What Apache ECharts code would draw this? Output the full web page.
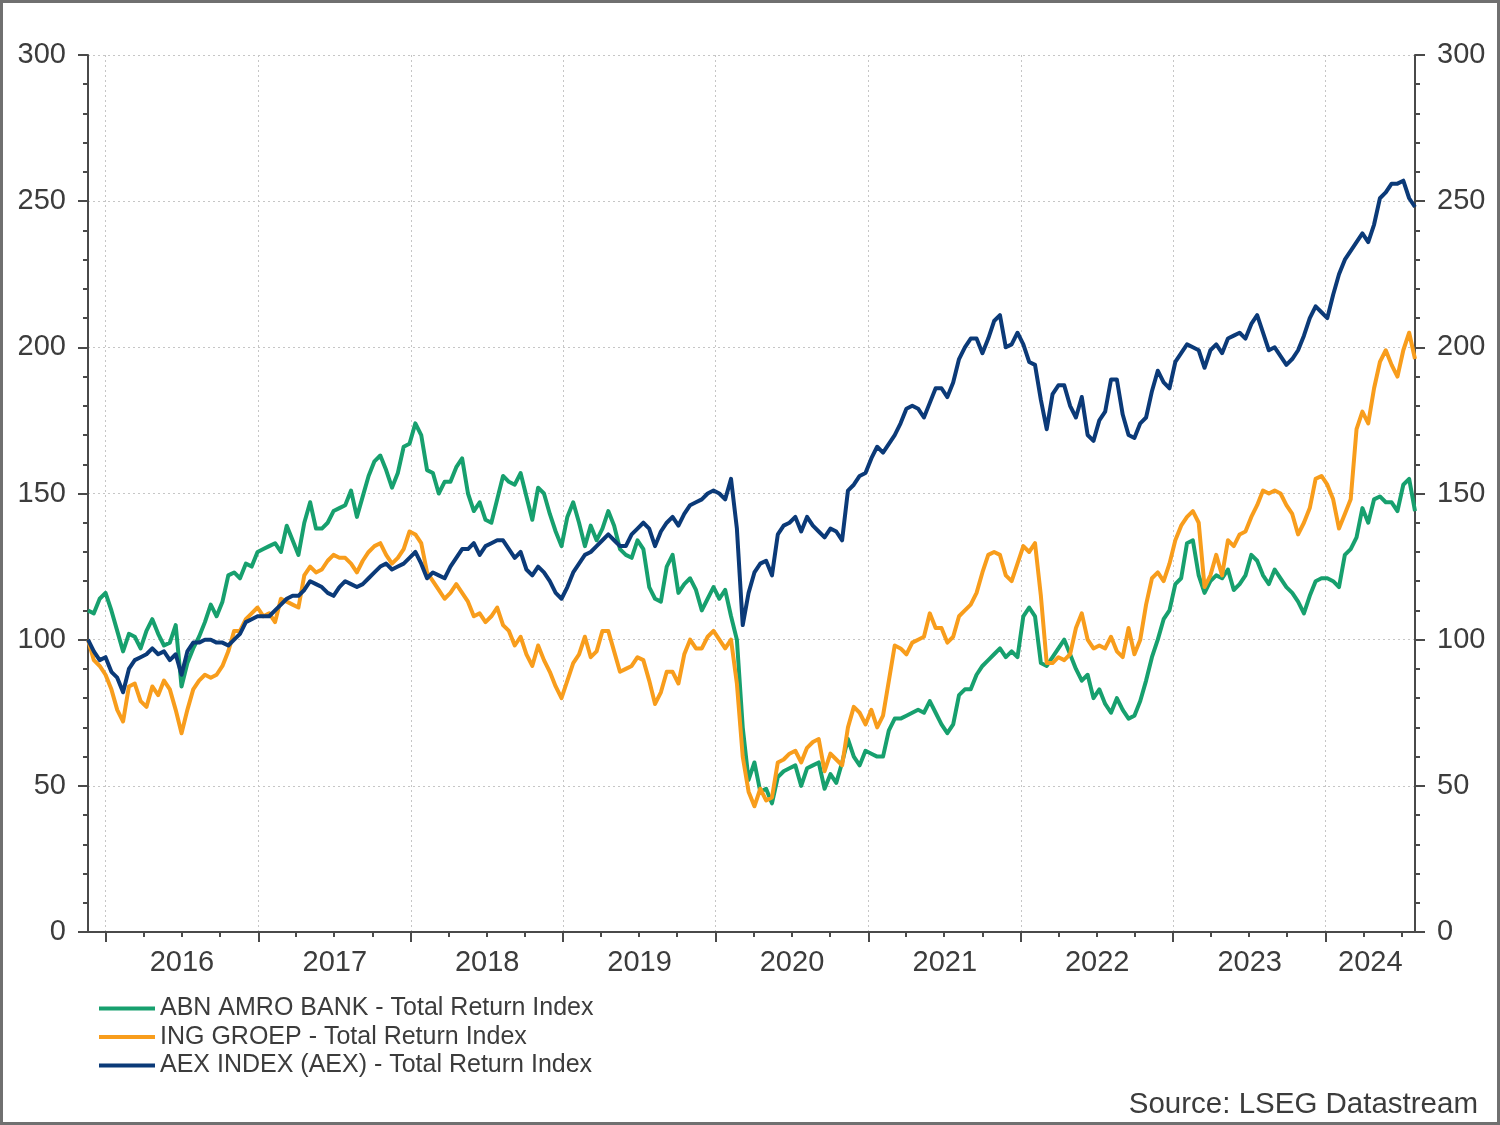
<!DOCTYPE html>
<html>
<head>
<meta charset="utf-8">
<title>ABN AMRO, ING, AEX - Total Return Index</title>
<script src="https://cdn.jsdelivr.net/npm/echarts@6/dist/echarts.min.js"></script>
<style>
  html, body { margin: 0; padding: 0; background: #fff; }
  #chart { width: 1500px; height: 1125px; }
</style>
</head>
<body>
<div id="chart"></div>
<script>
// biweekly observations, rebased to 100 at the start
const startDate = Date.UTC(2015, 10, 20);
const stepDays = 14;
const years = [2016, 2017, 2018, 2019, 2020, 2021, 2022, 2023, 2024];

const abn = [
  110, 109, 114, 116, 110, 103, 96, 102, 101, 97,
  103, 107, 102, 98, 99, 105, 84, 92, 97, 101,
  106, 112, 108, 113, 122, 123, 121, 126, 125, 130,
  131, 132, 133, 130, 139, 134, 129, 140, 147, 138,
  138, 140, 144, 145, 146, 151, 142, 149, 156, 161,
  163, 158, 152, 157, 166, 167, 174, 170, 158, 157,
  150, 154, 154, 159, 162, 150, 144, 147, 141, 140,
  148, 156, 154, 153, 157, 149, 141, 152, 150, 143,
  137, 132, 142, 147, 140, 132, 139, 134, 138, 144,
  139, 131, 129, 128, 134, 131, 118, 114, 113, 125,
  129, 116, 119, 121, 117, 110, 114, 118, 114, 117,
  108, 100, 70, 52, 58, 48, 49, 44, 53, 55,
  56, 57, 50, 56, 57, 58, 49, 54, 51, 58,
  66, 60, 57, 62, 61, 60, 60, 69, 73, 73,
  74, 75, 76, 75, 79, 75, 71, 68, 71, 81,
  83, 83, 88, 91, 93, 95, 97, 94, 96, 94,
  108, 111, 108, 92, 91, 94, 97, 100, 95, 90,
  86, 88, 80, 83, 78, 75, 80, 76, 73, 74,
  79, 86, 94, 100, 107, 110, 119, 121, 133, 134,
  122, 116, 120, 122, 121, 124, 117, 119, 122, 129,
  127, 122, 119, 124, 121, 118, 116, 113, 109, 115,
  120, 121, 121, 120, 118, 129, 131, 135, 145, 140,
  148, 149, 147, 147, 144, 153, 155, 144
];

const ing = [
  100, 93, 91, 88, 83, 76, 72, 84, 85, 79,
  77, 84, 81, 86, 83, 76, 68, 76, 83, 86,
  88, 87, 88, 91, 96, 103, 103, 107, 109, 111,
  108, 109, 106, 114, 113, 112, 111, 122, 125, 123,
  124, 127, 129, 128, 128, 126, 123, 127, 130, 132,
  133, 129, 126, 128, 131, 137, 136, 133, 123, 120,
  117, 114, 116, 119, 116, 113, 108, 109, 106, 108,
  111, 105, 103, 98, 101, 95, 91, 98, 93, 89,
  84, 80, 86, 92, 95, 101, 94, 96, 103, 103,
  96, 89, 90, 91, 94, 93, 86, 78, 82, 89,
  89, 85, 95, 100, 97, 97, 101, 103, 100, 97,
  100, 85, 60, 48, 43, 49, 45, 46, 58, 59,
  61, 62, 58, 63, 65, 66, 55, 61, 59, 57,
  70, 77, 75, 71, 76, 70, 74, 86, 98, 97,
  95, 99, 100, 101, 109, 104, 104, 99, 101, 108,
  110, 112, 116, 123, 129, 130, 129, 122, 120, 126,
  132, 130, 133, 115, 92, 92, 94, 93, 95, 104,
  109, 100, 97, 98, 97, 101, 96, 94, 104, 95,
  100, 112, 121, 123, 120, 126, 134, 139, 142, 144,
  140, 118, 122, 129, 122, 134, 132, 136, 137, 142,
  146, 151, 150, 151, 150, 146, 143, 136, 140, 145,
  155, 156, 153, 148, 138, 143, 148, 172, 178, 174,
  186, 195, 199, 194, 190, 199, 205, 196
];

const aex = [
  100, 96, 93, 94, 89, 87, 82, 90, 93, 94,
  95, 97, 95, 96, 93, 95, 88, 96, 99, 99,
  100, 100, 99, 99, 98, 100, 102, 106, 107, 108,
  108, 108, 110, 112, 114, 115, 115, 117, 120, 119,
  118, 116, 115, 118, 120, 119, 118, 119, 121, 123,
  125, 126, 124, 125, 126, 128, 130, 126, 121, 123,
  122, 121, 125, 128, 131, 131, 133, 129, 132, 133,
  134, 134, 131, 128, 130, 124, 122, 125, 123, 120,
  116, 114, 118, 123, 126, 129, 130, 132, 134, 136,
  134, 132, 132, 136, 138, 140, 138, 132, 137, 140,
  142, 139, 143, 146, 147, 148, 150, 151, 150, 148,
  155, 138, 105, 116, 123, 126, 127, 122, 136, 139,
  140, 142, 137, 142, 139, 137, 135, 138, 137, 134,
  151, 153, 156, 157, 162, 166, 164, 167, 170, 174,
  179, 180, 179, 176, 181, 186, 186, 183, 188, 196,
  200, 203, 203, 198, 203, 209, 211, 200, 201, 205,
  201, 195, 194, 182, 172, 184, 187, 187, 180, 176,
  183, 170, 168, 175, 178, 189, 189, 177, 170, 169,
  174, 176, 185, 192, 188, 186, 195, 198, 201, 200,
  199, 193, 199, 201, 198, 203, 204, 205, 203, 208,
  211, 205, 199, 200, 197, 194, 196, 199, 204, 210,
  214, 212, 210, 218, 225, 230, 233, 236, 239, 236,
  242, 251, 253, 256, 256, 257, 251, 248
];

const seriesNames = [
  'ABN AMRO BANK - Total Return Index',
  'ING GROEP - Total Return Index',
  'AEX INDEX (AEX) - Total Return Index'
];
const colors = ['#17a06e', '#f89d1c', '#0b3a78'];

const DAY = 86400000;
const fontFamily = '"Liberation Sans", Arial, sans-serif';
const axisColor = '#4a4a4a';
const textColor = '#3c3c3c';
const gridColor = '#c6c6c6';

const endDate = startDate + (abn.length - 1) * stepDays * DAY;
const obsTimes = abn.map((v, i) => startDate + i * stepDays * DAY);

// daily helper categories so ticks land exactly on calendar dates
const dayCount = Math.round((endDate - startDate) / DAY) + 1;
const days = [];
for (let d = 0; d < dayCount; d++) {
  days.push(new Date(startDate + d * DAY).toISOString().slice(0, 10));
}
function dayIdx(y, m) {
  return Math.round((Date.UTC(y, m, 1) - startDate) / DAY);
}

const yearTicks = new Set(years.map(y => dayIdx(y, 0)));
const quarterTicks = new Set();
years.forEach(y => [0, 3, 6, 9].forEach(m => {
  const k = dayIdx(y, m);
  if (k >= 0 && k < dayCount) quarterTicks.add(k);
}));
const yearLabels = {};
years.forEach((y, j) => {
  const a = dayIdx(y, 0);
  const b = Math.min(dayIdx(y + 1, 0), dayCount - 1);
  yearLabels[Math.round((a + b) / 2)] = String(y);
});

const pairs = arr => arr.map((v, i) => [obsTimes[i], v]);

const chart = echarts.init(document.getElementById('chart'));

const yAxisBase = {
  type: 'value',
  min: 0,
  max: 300,
  interval: 50,
  axisLine: { show: true, lineStyle: { color: axisColor, width: 2 } },
  axisTick: { show: true, length: 10, lineStyle: { color: axisColor, width: 2 } },
  minorTick: { show: true, splitNumber: 5, length: 5, lineStyle: { color: axisColor, width: 2 } },
  axisLabel: { margin: 22, fontSize: 29, color: textColor, fontFamily: fontFamily }
};

chart.setOption({
  animation: false,
  backgroundColor: '#fff',
  color: colors,
  grid: { left: 88, right: 85, top: 55, bottom: 193, containLabel: false },
  xAxis: [
    {
      type: 'time',
      min: startDate,
      max: endDate,
      show: false
    },
    {
      type: 'category',
      data: days,
      boundaryGap: false,
      position: 'bottom',
      axisLine: { show: true, lineStyle: { color: axisColor, width: 2 } },
      axisTick: { show: true, length: 10, interval: idx => yearTicks.has(idx), lineStyle: { color: axisColor, width: 2 } },
      axisLabel: { show: false },
      splitLine: { show: true, interval: idx => yearTicks.has(idx), lineStyle: { color: gridColor, width: 1, type: [2, 3] } }
    },
    {
      type: 'category',
      data: days,
      boundaryGap: false,
      position: 'bottom',
      axisLine: { show: false },
      axisTick: { show: true, length: 5, interval: idx => quarterTicks.has(idx), lineStyle: { color: axisColor, width: 2 } },
      axisLabel: {
        show: true,
        interval: idx => yearLabels[idx] !== undefined,
        formatter: (val, idx) => yearLabels[idx] || '',
        margin: 16,
        fontSize: 29,
        color: textColor,
        fontFamily: fontFamily
      },
      splitLine: { show: false }
    }
  ],
  yAxis: [
    Object.assign({}, yAxisBase, {
      position: 'left',
      splitLine: { show: true, lineStyle: { color: gridColor, width: 1, type: [2, 3] } }
    }),
    Object.assign({}, yAxisBase, {
      position: 'right',
      splitLine: { show: false }
    })
  ],
  legend: {
    orient: 'vertical',
    left: 94,
    top: 991,
    icon: 'rect',
    itemWidth: 56,
    itemHeight: 4,
    itemGap: 3.5,
    textStyle: { fontSize: 25, lineHeight: 25, color: textColor, fontFamily: fontFamily },
    data: seriesNames
  },
  graphic: [
    {
      type: 'rect',
      silent: true,
      shape: { x: 1.5, y: 1.5, width: 1497, height: 1122 },
      style: { fill: null, stroke: '#707070', lineWidth: 3 }
    },
    {
      type: 'text',
      silent: true,
      x: 1478,
      y: 1105,
      style: {
        text: 'Source: LSEG Datastream',
        fontSize: 29.5,
        fill: textColor,
        fontFamily: fontFamily,
        textAlign: 'right',
        textVerticalAlign: 'middle'
      }
    }
  ],
  series: [
    { name: seriesNames[0], type: 'line', xAxisIndex: 0, data: pairs(abn), showSymbol: false, lineStyle: { width: 4, join: 'round' } },
    { name: seriesNames[1], type: 'line', xAxisIndex: 0, data: pairs(ing), showSymbol: false, lineStyle: { width: 4, join: 'round' } },
    { name: seriesNames[2], type: 'line', xAxisIndex: 0, data: pairs(aex), showSymbol: false, lineStyle: { width: 4, join: 'round' } }
  ]
});
</script>
</body>
</html>
